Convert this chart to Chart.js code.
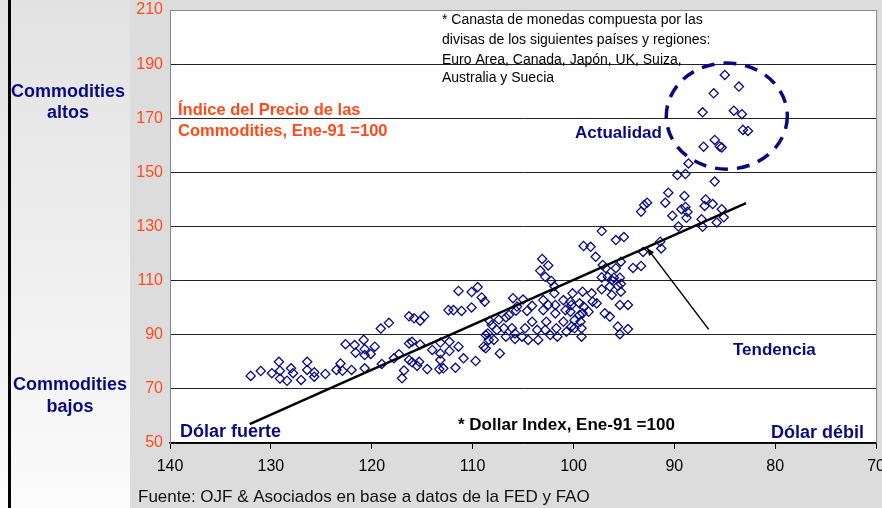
<!DOCTYPE html>
<html>
<head>
<meta charset="utf-8">
<script src="https://cdn.jsdelivr.net/npm/chart.js@4.4.1/dist/chart.umd.min.js"></script>
<style>
  html, body { margin: 0; padding: 0; background: #dcdcdc; }
  canvas { display: block; }
</style>
</head>
<body>
<canvas id="chart" width="882" height="508"></canvas>
<script>
// Dollar Index (x, Ene-91 = 100) vs Commodities price index (y, Ene-91 = 100)
const dollarIndex = [
  132.0, 131.0, 129.9, 129.2, 129.1, 129.1, 128.4, 128.0, 127.8, 127.0,
  126.4, 126.4, 125.7, 125.7, 124.6, 123.5, 123.1, 122.9, 122.0, 122.6,
  121.7, 121.6, 120.8, 120.7, 120.7, 120.1, 119.7, 120.7, 119.1, 118.3,
  119.0, 117.8, 117.3, 116.3, 115.8, 115.2, 114.8, 116.3, 116.0, 115.2,
  114.0, 113.2, 112.3, 112.3, 111.4, 110.9, 109.7, 113.2, 116.3, 116.0,
  115.3, 115.5, 116.8, 117.0, 114.5, 113.2, 113.3, 112.9, 111.7, 112.4,
  111.9, 111.1, 110.1, 111.4, 110.1, 109.5, 109.1, 108.8, 103.1, 102.5,
  103.3, 102.8, 102.2, 101.9, 99.0, 106.0, 105.0, 104.1, 104.6, 105.7,
  106.7, 107.4, 108.3, 108.5, 107.9, 108.7, 107.3, 106.7, 106.1, 105.8,
  105.1, 104.5, 104.8, 104.1, 103.6, 103.0, 103.0, 102.5, 101.9, 101.8,
  101.8, 102.7, 101.7, 101.6, 102.3, 101.0, 100.8, 101.0, 100.3, 100.1,
  100.3, 99.9, 99.4, 99.1, 99.1, 99.3, 99.2, 99.9, 100.7, 103.5,
  102.8, 106.9, 107.6, 108.4, 108.1, 106.4, 105.6, 105.8, 108.9, 108.7,
  97.2, 95.8, 95.0, 98.3, 97.8, 93.1, 93.3, 94.1, 91.4, 91.3,
  95.3, 95.8, 96.8, 96.6, 97.2, 96.0, 95.4, 96.2, 95.3, 95.6,
  96.4, 97.2, 95.3, 96.2, 95.4, 94.6, 96.9, 96.4, 95.6, 94.6,
  95.4, 98.2, 98.1, 97.7, 98.5, 99.4, 100.2, 99.0, 100.2, 99.2,
  97.1, 90.6, 89.0, 90.9, 88.9, 88.7, 90.2, 88.8, 89.6, 93.3,
  93.0, 92.7, 85.0, 83.6, 86.1, 87.2, 84.1, 83.3, 83.2, 82.7,
  86.0, 87.1, 85.5, 85.3, 88.6, 89.7, 88.9, 86.0, 86.9, 86.2,
  87.0, 85.3, 85.1, 85.8, 87.3, 87.2, 89.3
];
const commodityIndex = [
  74.8, 76.6, 75.8, 80.0, 76.7, 73.8, 73.0, 77.6, 75.8, 73.3,
  80.0, 77.0, 76.1, 74.5, 75.5, 77.0, 79.4, 76.7, 77.0, 86.5,
  86.2, 83.4, 88.1, 84.7, 82.5, 82.9, 85.6, 77.6, 92.3, 94.4,
  79.2, 81.3, 82.8, 96.8, 96.1, 95.2, 96.8, 86.8, 87.4, 86.4,
  84.4, 87.1, 87.4, 84.0, 85.6, 81.3, 80.3, 83.1, 80.7, 79.8,
  80.0, 78.5, 76.8, 73.9, 77.3, 80.7, 77.3, 77.6, 77.8, 99.1,
  99.1, 98.8, 100.1, 106.2, 105.8, 107.6, 103.8, 102.2, 118.0, 115.6,
  113.7, 111.4, 109.9, 107.9, 122.8, 103.5, 103.0, 100.7, 98.8, 98.9,
  96.4, 95.6, 95.1, 90.5, 88.1, 85.0, 83.1, 89.3, 92.4, 88.4,
  89.3, 88.1, 92.4, 94.8, 91.8, 102.8, 99.1, 101.0, 105.3, 101.0,
  97.9, 94.8, 92.4, 89.3, 89.9, 102.8, 99.1, 94.8, 102.2, 105.3,
  98.5, 95.4, 101.6, 105.9, 97.9, 94.8, 89.3, 92.4, 91.1, 88.1,
  91.8, 92.4, 91.8, 88.1, 93.6, 97.3, 100.4, 90.5, 85.6, 89.9,
  128.3, 125.0, 126.1, 122.5, 118.8, 120.6, 115.4, 114.7, 124.4, 121.9,
  117.0, 114.6, 114.6, 111.4, 111.2, 111.1, 111.1, 110.2, 108.8, 108.0,
  107.8, 106.8, 105.9, 104.7, 101.0, 101.0, 97.9, 96.7, 93.0, 92.1,
  90.2, 105.3, 102.2, 101.6, 98.5, 97.3, 101.0, 100.4, 93.0, 92.4,
  115.8, 142.5, 141.3, 138.8, 137.2, 135.4, 134.0, 133.2, 130.0, 135.5,
  137.9, 138.8, 186.0, 181.7, 179.2, 172.2, 172.8, 171.5, 165.7, 165.3,
  162.0, 159.5, 159.6, 159.2, 153.3, 149.0, 149.4, 146.6, 140.0, 138.3,
  137.6, 136.4, 133.4, 131.5, 132.7, 129.9, 136.4
];

// trend line and the "Tendencia" pointer
const trendX = [132.1, 82.9];
const trendY = [57.0, 138.6];
const pointerX = [92.7, 86.6];
const pointerY = [122.0, 92.0];

// "Actualidad" circle: centre and radii in axis units
const nowCircle = { x: 84.8, y: 170.8, rx: 6.0, ry: 19.6 };

const yTicks = [50, 70, 90, 110, 130, 150, 170, 190, 210];
const xTicks = [140, 130, 120, 110, 100, 90, 80, 70];

const NAVY = '#0a0a80';
const ORANGE = '#ff4a1a';
const FONT = '"Liberation Sans", Arial, sans-serif';

const points = dollarIndex.map((x, i) => ({ x: x, y: commodityIndex[i] }));
const trend = trendX.map((x, i) => ({ x: x, y: trendY[i] }));
const pointer = pointerX.map((x, i) => ({ x: x, y: pointerY[i] }));

const decor = {
  id: 'decor',
  beforeDraw(chart) {
    const ctx = chart.ctx;
    const a = chart.chartArea;
    ctx.save();
    ctx.fillStyle = '#dcdcdc';
    ctx.fillRect(0, 0, chart.width, chart.height);
    const g = ctx.createLinearGradient(0, 0, 0, chart.height);
    g.addColorStop(0, '#e2e2e2');
    g.addColorStop(1, '#fbfbfb');
    ctx.fillStyle = g;
    ctx.fillRect(0, 0, 130, chart.height);
    ctx.fillStyle = '#000';
    ctx.fillRect(8, 0, 3, chart.height);
    ctx.fillStyle = '#fff';
    ctx.fillRect(a.left, a.top, a.right - a.left, a.bottom - a.top);
    ctx.restore();
  },
  afterDatasetsDraw(chart) {
    const ctx = chart.ctx;
    const a = chart.chartArea;
    const xs = chart.scales.x, ys = chart.scales.y;
    ctx.save();

    // right border of the plot
    ctx.strokeStyle = '#888';
    ctx.lineWidth = 1;
    ctx.beginPath();
    ctx.moveTo(a.right + 0.5, a.top);
    ctx.lineTo(a.right + 0.5, a.bottom);
    ctx.stroke();

    // dashed circle around the latest points
    const cx = xs.getPixelForValue(nowCircle.x);
    const cy = ys.getPixelForValue(nowCircle.y);
    const rx = Math.abs(xs.getPixelForValue(nowCircle.x + nowCircle.rx) - cx);
    const ry = Math.abs(ys.getPixelForValue(nowCircle.y + nowCircle.ry) - cy);
    ctx.strokeStyle = NAVY;
    ctx.lineWidth = 3.5;
    ctx.setLineDash([13, 9]);
    ctx.beginPath();
    ctx.ellipse(cx, cy, rx, ry, 0, 0, Math.PI * 2);
    ctx.stroke();
    ctx.setLineDash([]);

    // small arrow head where the pointer meets the trend line
    const px0 = xs.getPixelForValue(pointerX[0]), py0 = ys.getPixelForValue(pointerY[0]);
    const px1 = xs.getPixelForValue(pointerX[1]), py1 = ys.getPixelForValue(pointerY[1]);
    const ang = Math.atan2(py0 - py1, px0 - px1);
    ctx.fillStyle = '#000';
    ctx.beginPath();
    ctx.moveTo(px0, py0);
    ctx.lineTo(px0 - 8 * Math.cos(ang - 0.4), py0 - 8 * Math.sin(ang - 0.4));
    ctx.lineTo(px0 - 8 * Math.cos(ang + 0.4), py0 - 8 * Math.sin(ang + 0.4));
    ctx.closePath();
    ctx.fill();

    // texts inside the plot
    ctx.textBaseline = 'middle';
    ctx.textAlign = 'left';
    ctx.fillStyle = ORANGE;
    ctx.font = 'bold 16.5px ' + FONT;
    ctx.fillText('Índice del Precio de las', a.left + 8, 110);
    ctx.fillText('Commodities, Ene-91 =100', a.left + 8, 131);

    ctx.fillStyle = '#000';
    ctx.font = '14px ' + FONT;
    ctx.fillText('* Canasta de monedas compuesta por las', 442, 20);
    ctx.fillText('divisas de los siguientes países y regiones:', 442, 40);
    ctx.fillText('Euro Area, Canada, Japón, UK, Suiza,', 442, 60);
    ctx.fillText('Australia y Suecia', 442, 78);

    ctx.fillStyle = NAVY;
    ctx.font = 'bold 17px ' + FONT;
    ctx.fillText('Actualidad', 575, 133);
    ctx.fillText('Tendencia', 733, 350);
    ctx.font = 'bold 18px ' + FONT;
    ctx.fillText('Dólar fuerte', 180, 432);
    ctx.textAlign = 'right';
    ctx.fillText('Dólar débil', 864, 433);

    ctx.textAlign = 'left';
    ctx.fillStyle = '#000';
    ctx.font = 'bold 17px ' + FONT;
    ctx.fillText('* Dollar Index, Ene-91 =100', 458, 425);

    // left side labels
    ctx.textAlign = 'center';
    ctx.fillStyle = NAVY;
    ctx.font = 'bold 18px ' + FONT;
    ctx.fillText('Commodities', 68, 92);
    ctx.fillText('altos', 68, 113);
    ctx.fillText('Commodities', 70, 385);
    ctx.fillText('bajos', 70, 407);

    // source
    ctx.textAlign = 'left';
    ctx.fillStyle = '#111';
    ctx.font = '17px ' + FONT;
    ctx.fillText('Fuente: OJF & Asociados en base a datos de la FED y FAO', 138, 497);

    ctx.restore();
  }
};

new Chart(document.getElementById('chart'), {
  type: 'scatter',
  data: {
    datasets: [
      {
        label: 'Dollar vs Commodities',
        data: points,
        pointStyle: 'rectRot',
        pointRadius: 4.6,
        pointBorderWidth: 1.3,
        pointBorderColor: NAVY,
        pointBackgroundColor: 'rgba(255,255,255,0)',
        showLine: false,
        order: 2
      },
      {
        label: 'Tendencia',
        data: trend,
        showLine: true,
        borderColor: '#000',
        borderWidth: 2.5,
        pointRadius: 0,
        order: 1
      },
      {
        label: 'pointer',
        data: pointer,
        showLine: true,
        borderColor: '#000',
        borderWidth: 1.5,
        pointRadius: 0,
        order: 1
      }
    ]
  },
  options: {
    responsive: false,
    animation: false,
    devicePixelRatio: 1,
    layout: { padding: { left: 0, right: 3, top: 10, bottom: 0 } },
    plugins: {
      legend: { display: false },
      tooltip: { enabled: false }
    },
    scales: {
      x: {
        type: 'linear',
        reverse: true,
        min: 70,
        max: 140,
        afterBuildTicks: (s) => { s.ticks = xTicks.map(v => ({ value: v })); },
        afterFit: (s) => { s.height = 65; s.paddingLeft = 0; s.paddingRight = 0; },
        ticks: {
          color: '#000',
          font: { family: FONT, size: 16 },
          padding: 8,
          maxRotation: 0
        },
        grid: {
          drawOnChartArea: false,
          drawTicks: true,
          tickLength: 6,
          color: '#000'
        },
        border: { display: true, color: '#000', width: 1.5 }
      },
      y: {
        type: 'linear',
        min: 50,
        max: 210,
        afterBuildTicks: (s) => { s.ticks = yTicks.map(v => ({ value: v })); },
        afterFit: (s) => { s.width = 170; s.paddingTop = 0; s.paddingBottom = 0; },
        ticks: {
          color: ORANGE,
          font: { family: FONT, size: 16 },
          padding: 7
        },
        grid: {
          drawTicks: false,
          color: (c) => (c.tick && c.tick.value === 210 ? '#888' : '#222'),
          lineWidth: 1
        },
        border: { display: true, color: '#888', width: 1 }
      }
    }
  },
  plugins: [decor]
});
</script>
</body>
</html>
